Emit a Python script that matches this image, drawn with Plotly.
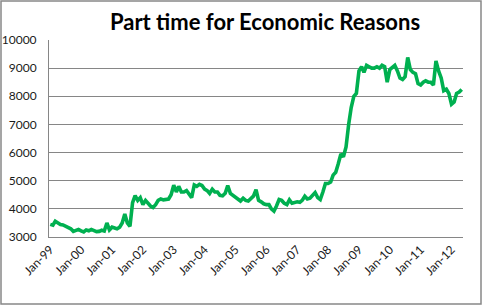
import plotly.graph_objects as go
import pandas as pd

title = "Part time for Economic Reasons"
start_month = "1999-01-01"
values = [
    3450, 3420, 3560, 3480, 3440, 3430, 3380, 3330, 3290, 3200, 3230, 3270,   # 1999
    3220, 3180, 3250, 3220, 3270, 3230, 3190, 3200, 3240, 3210, 3500, 3250,   # 2000
    3350, 3320, 3290, 3350, 3500, 3820, 3500, 3380, 4220, 4470, 4300, 4400,   # 2001
    4150, 4300, 4200, 4100, 4050, 4150, 4300, 4350, 4320, 4330, 4350, 4500,   # 2002
    4840, 4600, 4800, 4600, 4600, 4650, 4550, 4400, 4850, 4800, 4870, 4830,   # 2003
    4700, 4650, 4550, 4700, 4600, 4600, 4480, 4460, 4550, 4830, 4550, 4480,   # 2004
    4400, 4350, 4280, 4380, 4300, 4280, 4350, 4450, 4680, 4300, 4250, 4180,   # 2005
    4150, 4150, 4000, 3920, 4100, 4330, 4300, 4200, 4150, 4320, 4200, 4220,   # 2006
    4250, 4230, 4300, 4450, 4350, 4380, 4500, 4580, 4400, 4330, 4600, 4900,   # 2007
    4900, 4950, 5200, 5300, 5600, 5950, 5850, 6200, 7000, 7600, 8000, 8100,   # 2008
    8900, 9050, 8850, 9100, 9050, 9000, 9000, 9050, 9000, 9100, 9050, 8500,   # 2009
    8950, 9050, 9100, 8900, 8650, 8600, 8700, 9380, 8950, 8850, 8800, 8450,   # 2010
    8400, 8500, 8550, 8500, 8500, 8400, 9260, 8900, 8650, 8200, 8250, 8100,   # 2011
    7720, 7800, 8100, 8150, 8240,                                             # 2012
]
dates = pd.date_range(start_month, periods=len(values), freq="MS")
y_ticks = [3000, 4000, 5000, 6000, 7000, 8000, 9000, 10000]
y_tick_labels = [str(v) for v in y_ticks]

W, H = 483, 306
L, R, T, B = 49, 20, 40, 69
pw, ph = W - L - R, H - T - B

fig = go.Figure()
fig.add_trace(go.Scatter(
    x=dates, y=values, mode="lines",
    line=dict(color="#00B050", width=3.6),
    hoverinfo="skip", showlegend=False,
))

font = dict(family="Lato, 'Open Sans', sans-serif", size=12, color="#1a1a1a")

fig.update_layout(
    width=W, height=H,
    margin=dict(l=L, r=R, t=T, b=B),
    paper_bgcolor="white", plot_bgcolor="white",
    title=dict(text="<b>" + title + "</b>", x=(265 - L) / pw, xref="paper",
               xanchor="center", y=1 - 22 / H, yanchor="middle",
               font=dict(family="Lato, 'Open Sans', sans-serif", size=22, color="black")),
    xaxis=dict(
        type="date",
        range=[pd.Timestamp("1998-12-17"), pd.Timestamp("2012-05-16")],
        tick0="1999-01-01", dtick="M12", tickformat="%b-%y",
        tickangle=-45, tickfont=font,
        showgrid=False, zeroline=False,
        showline=True, linecolor="#868686", linewidth=1,
        ticks="", automargin=False,
    ),
    yaxis=dict(
        range=[3000, 10000], tickvals=y_ticks, ticktext=y_tick_labels,
        tickfont=font, showgrid=True, gridcolor="#868686", gridwidth=1,
        zeroline=False, showline=True, linecolor="#868686", linewidth=1,
        ticks="", ticklabelstandoff=9, automargin=False,
    ),
)

# outer chart border
fig.add_shape(type="rect", xref="paper", yref="paper",
              x0=(1 - L) / pw, x1=(W - 2 - L) / pw,
              y0=-(H - 2 - T - ph) / ph, y1=1 + (T - 1) / ph,
              line=dict(color="#888888", width=1.5), fillcolor="rgba(0,0,0,0)",
              layer="below")

fig.write_html("out.html")
